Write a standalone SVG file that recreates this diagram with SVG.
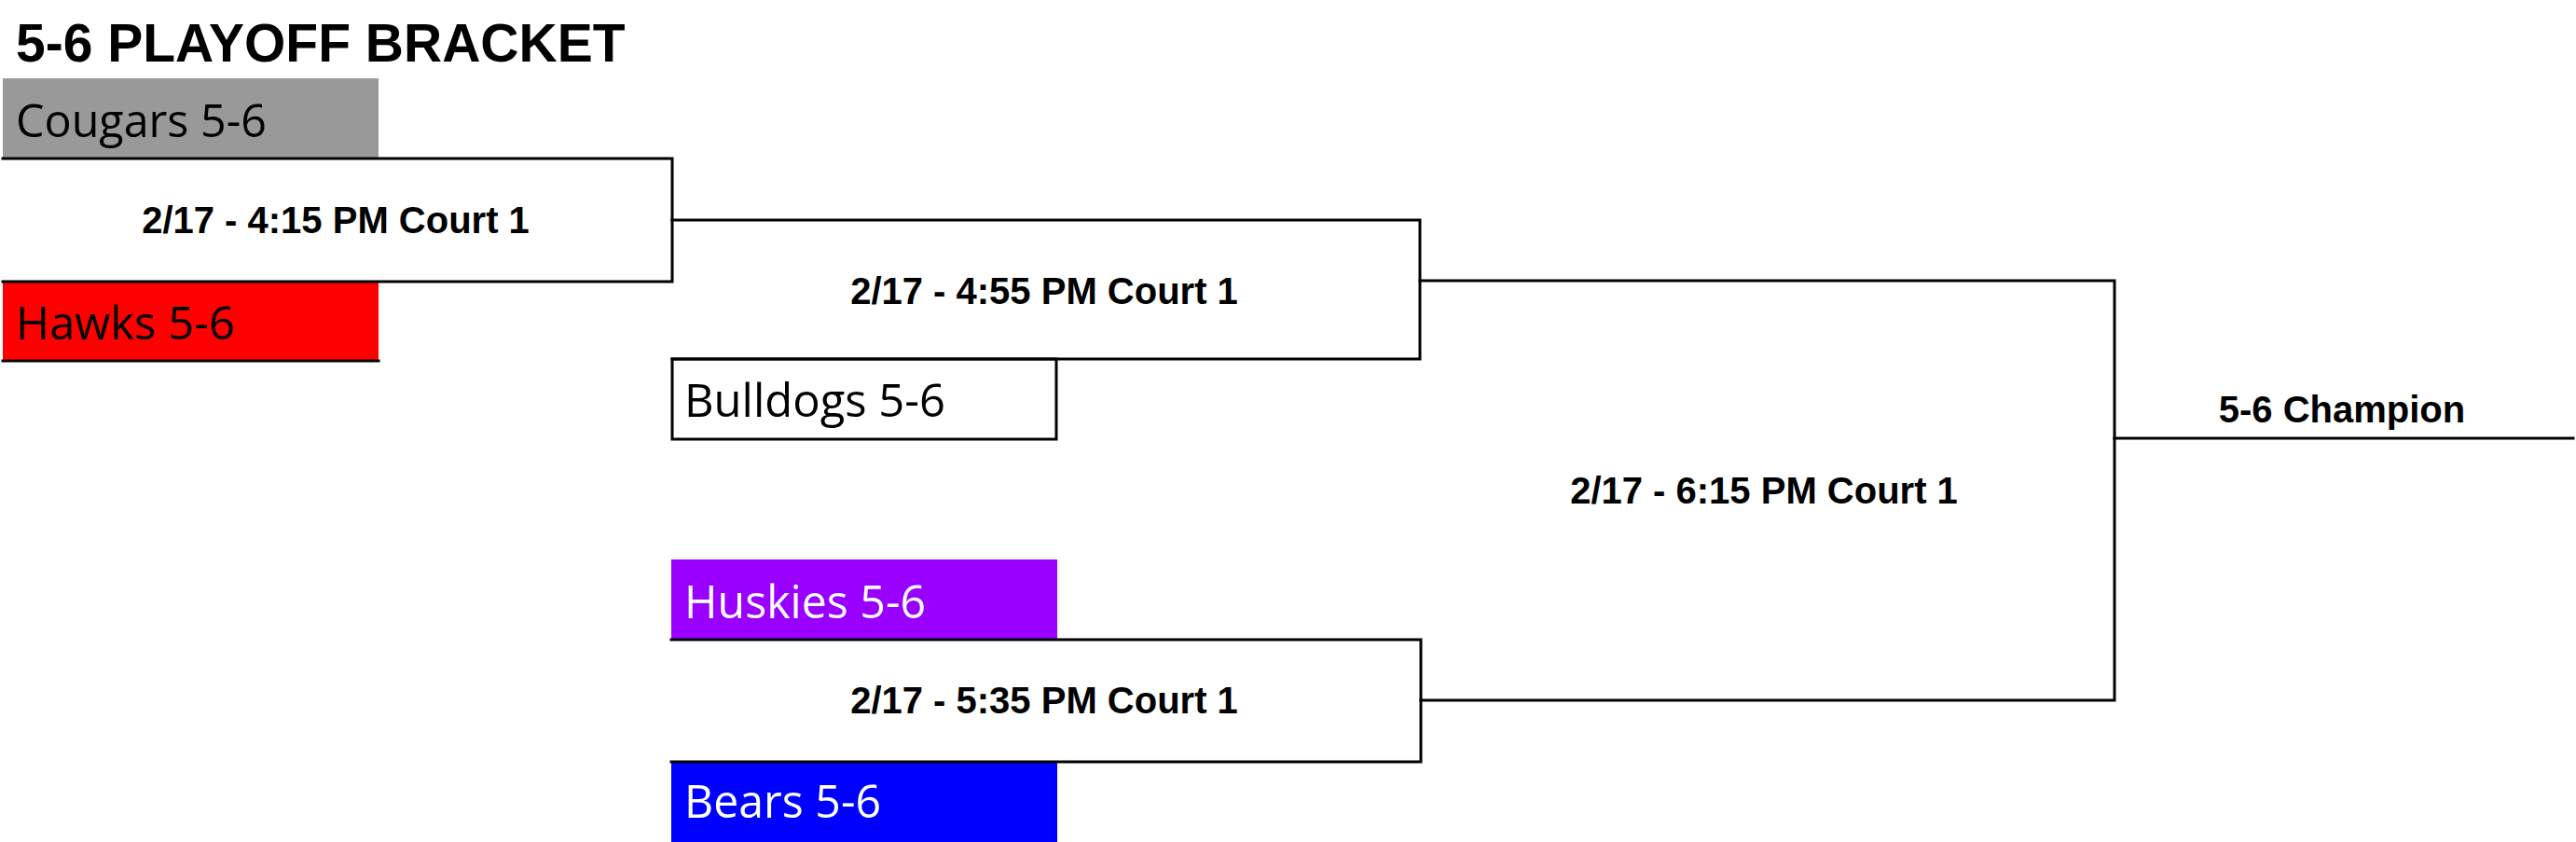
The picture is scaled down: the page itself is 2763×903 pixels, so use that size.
<svg xmlns="http://www.w3.org/2000/svg" width="2763" height="903" viewBox="0 0 2763 903">
<style>
.title{font-family:"Liberation Sans",Arial,sans-serif;font-weight:bold;font-size:57px;fill:#000}
.team{font-family:"Open Sans","Liberation Sans",sans-serif;font-size:50px}
.match{font-family:"Liberation Sans",Arial,sans-serif;font-weight:bold;font-size:40px;fill:#000;text-anchor:middle}
.ln{fill:none;stroke:#000;stroke-width:3;stroke-linecap:square}
</style>
<rect width="2763" height="903" fill="#fff"/>
<g id="title"><text class="title" x="17" y="66">5-6 PLAYOFF BRACKET</text></g>
<g id="cougars"><rect x="3" y="84" width="403" height="86" fill="#999999"/><text class="team" x="17" y="147" fill="#000" textLength="269" lengthAdjust="spacingAndGlyphs">Cougars 5-6</text></g>
<g id="hawks"><rect x="3" y="302" width="403" height="85" fill="#FF0000"/><text class="team" x="17" y="364" fill="#000" textLength="235" lengthAdjust="spacingAndGlyphs">Hawks 5-6</text></g>
<g id="bulldogs"><rect x="721" y="385" width="412" height="86" fill="#fff" stroke="#000" stroke-width="3"/><text class="team" x="734" y="447" fill="#000" textLength="280" lengthAdjust="spacingAndGlyphs">Bulldogs 5-6</text></g>
<g id="huskies"><rect x="720" y="600" width="414" height="86" fill="#9900FF"/><text class="team" x="734" y="663" fill="#fff" textLength="259" lengthAdjust="spacingAndGlyphs">Huskies 5-6</text></g>
<g id="bears"><rect x="720" y="817" width="414" height="86" fill="#0000FF"/><text class="team" x="734" y="877" fill="#fff" textLength="211" lengthAdjust="spacingAndGlyphs">Bears 5-6</text></g>
<g id="connectors">
<path class="ln" d="M3,170 H721 V302 H3"/>
<path class="ln" d="M3,387 H406"/>
<path class="ln" d="M721,236 H1523 V385 H721"/>
<path class="ln" d="M720,686 H1524 V817 H720"/>
<path class="ln" d="M1523,301 H2268 V751 H1524"/>
<path class="ln" d="M2268,470 H2760"/>
</g>
<g id="match1"><text class="match" x="360" y="250">2/17 - 4:15 PM Court 1</text></g>
<g id="match2"><text class="match" x="1120" y="326">2/17 - 4:55 PM Court 1</text></g>
<g id="match3"><text class="match" x="1120" y="765">2/17 - 5:35 PM Court 1</text></g>
<g id="match4"><text class="match" x="1892" y="540">2/17 - 6:15 PM Court 1</text></g>
<g id="champion"><text class="match" x="2512" y="453">5-6 Champion</text></g>
</svg>
